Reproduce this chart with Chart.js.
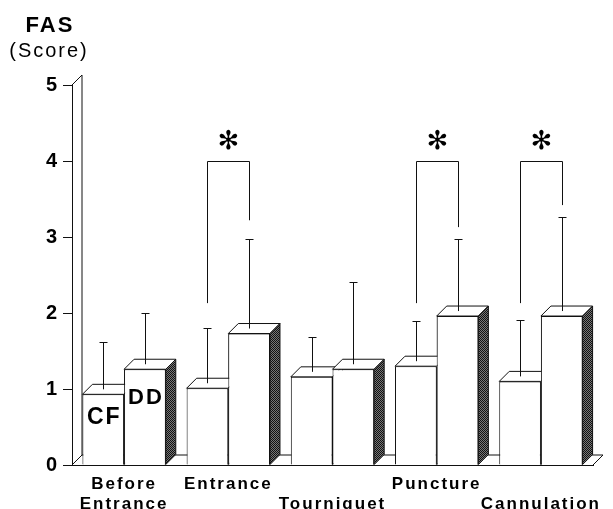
<!DOCTYPE html>
<html>
<head>
<meta charset="utf-8">
<script src="https://cdn.jsdelivr.net/npm/chart.js@4/dist/chart.umd.min.js"></script>
<style>
  html, body { margin: 0; padding: 0; background: #fff; }
  canvas { display: block; }
</style>
</head>
<body>
<canvas id="fas" width="613" height="509"></canvas>
<script>
// FAS score by phase, CF vs DD
const categories = [['Before', 'Entrance'], ['Entrance'], ['', 'Tourniquet'], ['Puncture'], ['', 'Cannulation']];
const seriesNames = ['CF', 'DD'];
const cfMeans = [0.93, 1.01, 1.16, 1.30, 1.10];
const ddMeans = [1.26, 1.73, 1.26, 1.96, 1.96];
const cfUpper = [1.62, 1.80, 1.68, 1.89, 1.91];
const ddUpper = [2.00, 2.98, 2.41, 2.97, 3.26];
// significance brackets (null = none)
const bracketTop = [null, 4.0, null, 4.0, 4.0];
const bracketCF = [null, 2.13, null, 2.13, 2.13];
const bracketDD = [null, 3.22, null, 3.13, 3.42];
const yTicks = [0, 1, 2, 3, 4, 5];

const DEPTH = 10;
const INK = '#111';
const FONT = '"Liberation Sans", Arial, Helvetica, sans-serif';

// dark stipple for the DD side faces
function stipple() {
  const c = document.createElement('canvas');
  c.width = 2; c.height = 2;
  const g = c.getContext('2d');
  g.fillStyle = '#777'; g.fillRect(0, 0, 2, 2);
  g.fillStyle = '#111'; g.fillRect(0, 0, 1, 1); g.fillRect(1, 1, 1, 1);
  return g.createPattern(c, 'repeat');
}

function poly(ctx, pts, fill) {
  ctx.beginPath();
  ctx.moveTo(pts[0][0], pts[0][1]);
  for (let i = 1; i < pts.length; i++) ctx.lineTo(pts[i][0], pts[i][1]);
  ctx.closePath();
  ctx.fillStyle = fill;
  ctx.fill();
  ctx.stroke();
}

function line(ctx, x1, y1, x2, y2) {
  ctx.beginPath();
  ctx.moveTo(x1, y1);
  ctx.lineTo(x2, y2);
  ctx.stroke();
}

// top + side faces of each bar
function faces(ctx, bars, side) {
  ctx.strokeStyle = INK;
  ctx.lineWidth = 1;
  bars.forEach(bar => {
    const l = bar.x - bar.width / 2, r = bar.x + bar.width / 2;
    poly(ctx, [[l, bar.y], [l + DEPTH, bar.y - DEPTH], [r + DEPTH, bar.y - DEPTH], [r, bar.y]], '#fff');
    poly(ctx, [[r, bar.y], [r + DEPTH, bar.y - DEPTH], [r + DEPTH, bar.base - DEPTH], [r, bar.base]], side);
  });
}

const threeD = {
  id: 'threeD',
  beforeUpdate(chart) { chart.ctx.letterSpacing = '2px'; },
  beforeDraw(chart) { chart.ctx.letterSpacing = '2px'; },
  beforeDatasetsDraw(chart) {
    const { ctx, chartArea: a } = chart;
    ctx.save();
    ctx.strokeStyle = INK;
    ctx.lineWidth = 1;
    // back wall
    line(ctx, a.left, a.top, a.left + DEPTH, a.top - DEPTH);
    line(ctx, a.left + DEPTH, a.top - DEPTH, a.left + DEPTH, a.bottom - DEPTH);
    line(ctx, a.left, a.bottom, a.left + DEPTH, a.bottom - DEPTH);
    // floor
    line(ctx, a.left + DEPTH, a.bottom - DEPTH, a.right + DEPTH, a.bottom - DEPTH);
    line(ctx, a.right + DEPTH, a.bottom - DEPTH, a.right, a.bottom);
    ctx.restore();
  },
  afterDatasetsDraw(chart) {
    const { ctx } = chart;
    const yS = chart.scales.y;
    const cfBars = chart.getDatasetMeta(0).data;
    const ddBars = chart.getDatasetMeta(1).data;
    ctx.save();

    // CF faces, then DD drawn again on top of them, then DD faces
    faces(ctx, cfBars, '#fff');
    ddBars.forEach(bar => bar.draw(ctx));
    faces(ctx, ddBars, stipple());

    ctx.strokeStyle = INK;
    ctx.lineWidth = 1;

    // upper error bars
    [[cfBars, cfUpper], [ddBars, ddUpper]].forEach(([bars, upper]) => {
      bars.forEach((bar, i) => {
        const yt = Math.round(yS.getPixelForValue(upper[i])) + 0.5;
        const x = Math.round(bar.x) + 0.5;
        line(ctx, x, bar.y - DEPTH / 2, x, yt);
        line(ctx, x - 4, yt, x + 4, yt);
      });
    });

    // brackets + asterisks
    ctx.fillStyle = '#000';
    ctx.textAlign = 'center';
    ctx.textBaseline = 'middle';
    ctx.letterSpacing = '0px';
    bracketTop.forEach((v, i) => {
      if (v === null) return;
      const xl = Math.round(cfBars[i].x) + 0.5, xr = Math.round(ddBars[i].x) + 0.5;
      const yt = Math.round(yS.getPixelForValue(v)) + 0.5;
      ctx.beginPath();
      ctx.moveTo(xl, yS.getPixelForValue(bracketCF[i]));
      ctx.lineTo(xl, yt);
      ctx.lineTo(xr, yt);
      ctx.lineTo(xr, yS.getPixelForValue(bracketDD[i]));
      ctx.stroke();
      ctx.font = 'bold 26px "DejaVu Sans"';
      ctx.fillText('\u273B', (xl + xr) / 2, yt - 19);
    });

    // series names inside the first pair of bars
    ctx.letterSpacing = '2px';
    ctx.font = 'bold 23px ' + FONT;
    ctx.fillText(seriesNames[0], cfBars[0].x + 1, cfBars[0].y + 23);
    ctx.font = 'bold 22px ' + FONT;
    ctx.fillText(seriesNames[1], ddBars[0].x + 1, ddBars[0].y + 29);

    // axis title
    ctx.textBaseline = 'alphabetic';
    ctx.font = 'bold 22px ' + FONT;
    ctx.fillText('FAS', 50, 32);
    ctx.font = '20px ' + FONT;
    ctx.fillText('(Score)', 49, 57);
    ctx.restore();
  }
};

const ctx = document.getElementById('fas').getContext('2d');
window.fasChart = new Chart(ctx, {
  type: 'bar',
  data: {
    labels: categories,
    datasets: [
      { label: seriesNames[0], data: cfMeans, backgroundColor: '#fff', borderColor: INK, borderWidth: 1 },
      { label: seriesNames[1], data: ddMeans, backgroundColor: '#fff', borderColor: INK, borderWidth: 1 }
    ]
  },
  options: {
    responsive: false,
    animation: false,
    categoryPercentage: 0.8,
    barPercentage: 1.0,
    layout: { padding: { top: 85, right: 20, left: 0, bottom: 0 } },
    plugins: { legend: { display: false }, tooltip: { enabled: false } },
    scales: {
      x: {
        grid: { display: false },
        border: { color: INK },
        ticks: { color: '#000', padding: 1, maxRotation: 0, autoSkip: false,
                 font: { family: FONT, size: 17, weight: 'bold', lineHeight: 1.18 } },
        afterFit: s => { s.height = 44; }
      },
      y: {
        min: 0, max: 5,
        afterBuildTicks: s => { s.ticks = yTicks.map(v => ({ value: v })); },
        grid: { drawOnChartArea: false, tickLength: 9, color: INK },
        border: { color: INK },
        ticks: { color: '#000', padding: 4, font: { family: FONT, size: 20, weight: 'bold' } },
        afterFit: s => { s.width = 72; }
      }
    }
  },
  plugins: [threeD]
});
</script>
</body>
</html>
